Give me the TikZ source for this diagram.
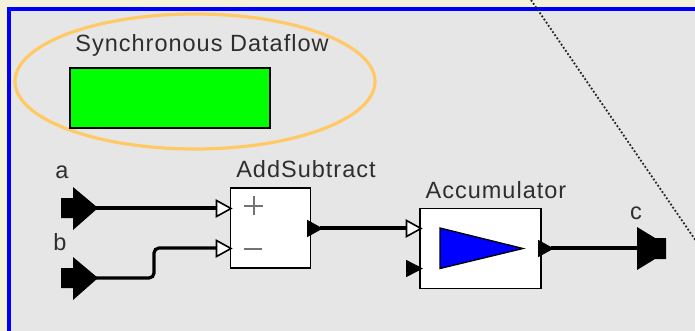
\documentclass[tikz,border=0pt]{standalone}
\usepackage{fontspec}
\usetikzlibrary{shapes.geometric}
\setmainfont{Liberation Sans}[LetterSpace=4.3]
\definecolor{pagebg}{HTML}{F5F2DC}
\definecolor{canvas}{HTML}{E6E6E6}
\definecolor{frameblue}{HTML}{0000FF}
\definecolor{ringorange}{HTML}{FFC966}
\definecolor{labelgrey}{HTML}{2E2E2E}
\tikzset{
  x=1pt,y=-1pt,
  block/.style={draw=black,line width=1.5pt,fill=white,minimum width=80pt,minimum height=80pt,inner sep=0pt,outer sep=0pt},
  lbl/.style={text=labelgrey,font=\fontsize{23.5}{25}\selectfont,inner sep=0pt},
  wire/.style={draw=black,line width=3.2pt,rounded corners=5pt},
  openport/.style={draw=black,line width=1.6pt,fill=white,line join=miter},
  solidport/.style={fill=black,draw=black,line width=.8pt},
  sign/.style={draw=black!55,line width=2pt}
}
\begin{document}
\begin{tikzpicture}
\useasboundingbox (0,0) rectangle (695,331);
\fill[pagebg] (0,0) rectangle (695,331);
\fill[canvas] (9,9) rectangle (695,331);
\draw[frameblue,line width=4pt] (695,9) -- (9,9) -- (9,331);
\draw[black!85,line width=1.8pt,dotted] (531,0) -- (696,241);
% Director
\node[draw=ringorange,line width=3.2pt,ellipse,minimum width=360pt,minimum height=135pt,inner sep=0pt] (ring) at (195,81.5) {};
\node[draw=black,line width=1.5pt,fill=green,minimum width=200pt,minimum height=60pt,inner sep=0pt] (sdf) at (170,98) {};
\node[lbl] (sdflabel) at (202,45) {Synchronous Dataflow};
% Blocks
\node[block] (add) at (270.5,228) {};
\node[block,minimum width=121pt] (acc) at (480.5,248.5) {};
\node[lbl] (addlabel) at (306,169) {AddSubtract};
\node[lbl] (acclabel) at (496,190) {Accumulator};
% Connection points
\coordinate (pa) at (96,208);
\coordinate (pb) at (96,278);
\coordinate (pc) at (640,248);
\coordinate (addp) at (217,208);
\coordinate (addm) at (217,248);
\coordinate (addo) at (320,228);
\coordinate (acci) at (407,228);
\coordinate (acco) at (551,248);
% Wires
\draw[wire] (pa) -- (addp);
\draw[wire] (pb) -- (154,278) -- (154,248) -- (addm);
\draw[wire] (addo) -- (acci);
\draw[wire] (acco) -- (pc);
% External ports
\fill[black] (61,198) -- (73,198) -- (73,187) -- (98,208) -- (73,230) -- (73,218) -- (61,218) -- cycle;
\fill[black] (61,268) -- (73,268) -- (73,257) -- (98,278) -- (73,300) -- (73,288) -- (61,288) -- cycle;
\fill[black] (637,227) -- (655,238) -- (666,238) -- (666,259) -- (655,259) -- (637,270) -- cycle;
\node[lbl] (la) at (62,172) {a};
\node[lbl] (lb) at (60,242) {b};
\node[lbl] (lc) at (636,213) {c};
% Block ports
\draw[openport] (216.5,200.5) -- (231,208.5) -- (216.5,216.5) -- cycle;
\draw[openport] (216.5,240.5) -- (231,248.5) -- (216.5,256.5) -- cycle;
\draw[openport] (406.5,220.5) -- (421,228.5) -- (406.5,236.5) -- cycle;
\draw[solidport] (307.5,220.5) -- (322,228.5) -- (307.5,236.5) -- cycle;
\draw[solidport] (406.5,260.5) -- (422,268.5) -- (406.5,276.5) -- cycle;
\draw[solidport] (538.5,240.5) -- (553,248.5) -- (538.5,256.5) -- cycle;
% Icons
\draw[sign] (244,205.5) -- (263,205.5) (253.5,196) -- (253.5,215);
\draw[sign] (244,248.5) -- (262,248.5);
\draw[draw=black,line width=1.3pt,fill=frameblue,line join=miter] (440,228) -- (523,248.5) -- (440,268.5) -- cycle;
\end{tikzpicture}
\end{document}
